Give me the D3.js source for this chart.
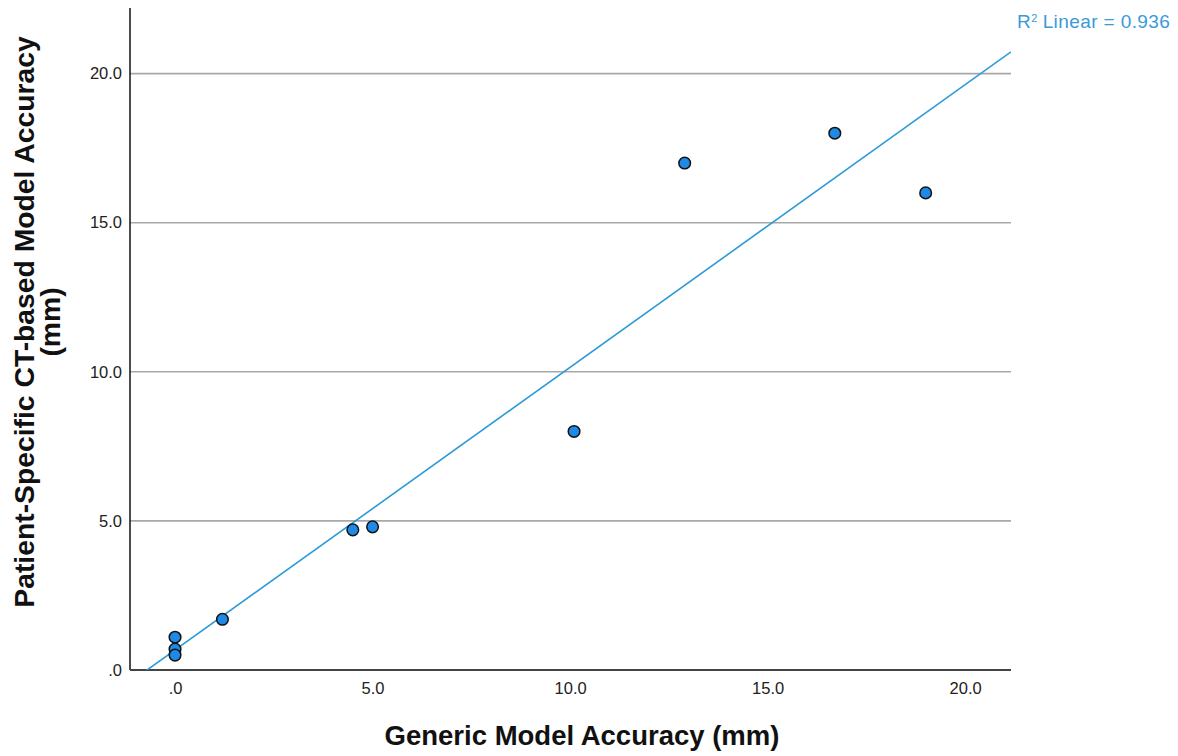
<!DOCTYPE html>
<html>
<head>
<meta charset="utf-8">
<script src="https://cdn.jsdelivr.net/npm/d3@7"></script>
<style>
  body { margin: 0; background: #fff; }
  svg { display: block; font-family: Arial, "Liberation Sans", sans-serif; }
</style>
</head>
<body>
<svg width="1178" height="756"></svg>
<script>
// values
let genericAcc = [0.0, 0.0, 0.0, 1.2, 4.5, 5.0, 10.1, 12.9, 16.7, 19.0];
let patientAcc = [1.1, 0.7, 0.5, 1.7, 4.7, 4.8, 8.0, 17.0, 18.0, 16.0];
let xTicks = [0, 5, 10, 15, 20];
let yTicks = [0, 5, 10, 15, 20];
let gridVals = [5, 10, 15, 20];
let r2Label = "0.936";

let svg = d3.select('svg');
let margin = {left: 130, right: 167, top: 8, bottom: 86};
let width = 1178 - margin.left - margin.right,
    height = 756 - margin.top - margin.bottom;

let fmt = v => v === 0 ? ".0" : d3.format(".1f")(v);

let xScale = d3.scaleLinear().domain([-1.14, 21.16]).range([0, width]);
let yScale = d3.scaleLinear().domain([0, 22.2]).range([height, 0]);

let g = svg.append("g")
  .attr("transform", "translate(" + margin.left + "," + margin.top + ")");

svg.append("defs").append("clipPath").attr("id", "plotclip")
  .append("rect").attr("width", width).attr("height", height);

// grid lines
g.selectAll(".grid").data(gridVals).enter()
  .append("line")
  .attr("x1", 0).attr("x2", width)
  .attr("y1", d => yScale(d)).attr("y2", d => yScale(d))
  .attr("stroke", "#a8a8a8")
  .attr("stroke-width", 1.6);

// axes (labels only, no tick marks)
let yAxis = g.append("g")
  .call(d3.axisLeft(yScale).tickValues(yTicks).tickFormat(fmt).tickSize(0).tickPadding(8));
yAxis.select(".domain").remove();
yAxis.selectAll("text").attr("font-size", 16.5).attr("fill", "#222").attr("font-family", "Arial, 'Liberation Sans', sans-serif");

let xAxis = g.append("g")
  .attr("transform", "translate(0," + height + ")")
  .call(d3.axisBottom(xScale).tickValues(xTicks).tickFormat(fmt).tickSize(0).tickPadding(12));
xAxis.select(".domain").remove();
xAxis.selectAll("text").attr("font-size", 16.5).attr("fill", "#222").attr("font-family", "Arial, 'Liberation Sans', sans-serif");

g.append("line")
  .attr("x1", 0).attr("x2", 0).attr("y1", 0).attr("y2", height)
  .attr("stroke", "#111").attr("stroke-width", 1.5);
g.append("line")
  .attr("x1", 0).attr("x2", width).attr("y1", height).attr("y2", height)
  .attr("stroke", "#444").attr("stroke-width", 2.2);

// linear fit
let mx = d3.mean(genericAcc), my = d3.mean(patientAcc);
let sxy = d3.sum(genericAcc, (x, i) => (x - mx) * (patientAcc[i] - my));
let sxx = d3.sum(genericAcc, x => (x - mx) * (x - mx));
let slope = sxy / sxx, icpt = my - slope * mx;
let xs = xScale.domain();
g.append("path")
  .datum([xs[0], xs[1]])
  .attr("clip-path", "url(#plotclip)")
  .attr("fill", "none")
  .attr("stroke", "#2b9ad9")
  .attr("stroke-width", 1.6)
  .attr("d", d3.line().x(d => xScale(d)).y(d => yScale(slope * d + icpt)));

// points
g.selectAll("circle")
  .data(genericAcc.map((x, i) => ({x: x, y: patientAcc[i]})))
  .enter().append("circle")
  .attr("cx", d => xScale(d.x))
  .attr("cy", d => yScale(d.y))
  .attr("r", 5.8)
  .attr("fill", "#1e8ae6")
  .attr("stroke", "#111")
  .attr("stroke-width", 1.5);

// R2 label
let lab = svg.append("text")
  .attr("x", 1017).attr("y", 28)
  .attr("font-size", 19)
  .attr("letter-spacing", 0.4)
  .attr("fill", "#3a9ad9");
lab.append("tspan").text("R");
lab.append("tspan").attr("font-size", 11).attr("dy", -6).text("2");
lab.append("tspan").attr("dy", 6).attr("dx", 5).text("Linear = " + r2Label);

// axis titles
svg.append("text")
  .attr("x", 582).attr("y", 745)
  .attr("text-anchor", "middle")
  .attr("font-size", 27.5).attr("font-weight", "bold").attr("fill", "#111")
  .text("Generic Model Accuracy (mm)");

let yt = svg.append("text")
  .attr("transform", "translate(34,322) rotate(-90)")
  .attr("text-anchor", "middle")
  .attr("font-size", 28.3).attr("font-weight", "bold").attr("fill", "#111");
yt.append("tspan").attr("x", 0).attr("y", 0).text("Patient-Specific CT-based Model Accuracy");
yt.append("tspan").attr("x", 0).attr("y", 26).text("(mm)");
</script>
</body>
</html>
